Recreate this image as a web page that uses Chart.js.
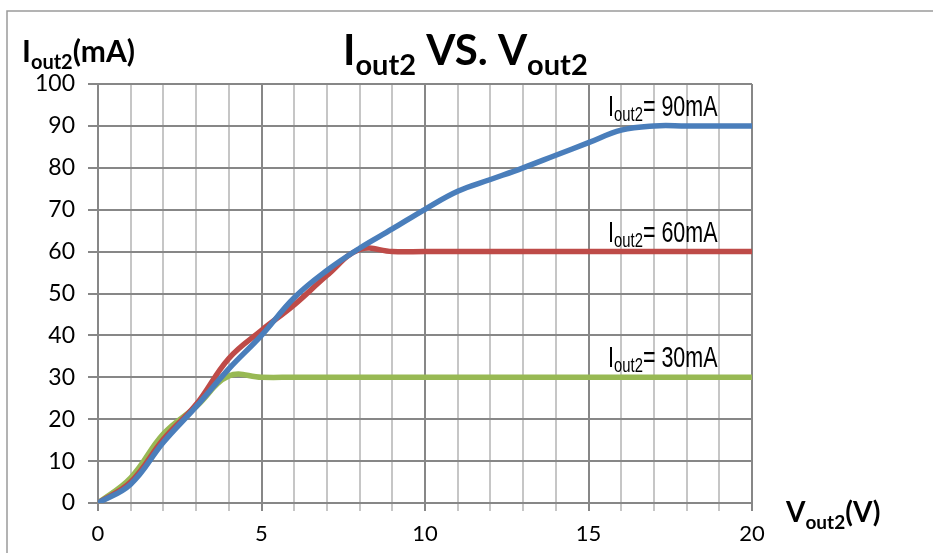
<!DOCTYPE html>
<html>
<head>
<meta charset="utf-8">
<script src="https://cdn.jsdelivr.net/npm/chart.js@4"></script>
<style>
  body { margin: 0; background: #fff; }
</style>
</head>
<body>
<canvas id="ivChart" width="933" height="553"></canvas>
<script>
// 電壓 (V)
var voltages = [0, 1, 2, 3, 4, 5, 6, 7, 8, 9, 10, 11, 12, 13, 14, 15, 16, 17, 18, 19, 20];
// 電流 (mA)
var current90 = [0, 4.5, 14.5, 23, 32, 40, 49, 55.5, 60.8, 65.4, 70.1, 74.4, 77.2, 80, 83, 86, 89, 90, 90, 90, 90];
var current60 = [0, 5, 15.2, 23.5, 34.5, 41.2, 47.3, 54.3, 60.5, 60, 60, 60, 60, 60, 60, 60, 60, 60, 60, 60, 60];
var current30 = [0, 6, 16.5, 23, 30.3, 30, 30, 30, 30, 30, 30, 30, 30, 30, 30, 30, 30, 30, 30, 30, 30];
var xTicks = [0, 5, 10, 15, 20];
var yTicks = [0, 10, 20, 30, 40, 50, 60, 70, 80, 90, 100];
var seriesLabels = ['90mA', '60mA', '30mA'];
var seriesLevels = [90, 60, 30];

function toPoints(ys) {
    return voltages.map(function (v, i) { return { x: v, y: ys[i] }; });
}

// 下標文字
function drawSub(ctx, x, y, parts) {
    parts.forEach(function (p) {
        ctx.font = p.font;
        ctx.fillText(p.t, x, y + (p.dy || 0));
        x += ctx.measureText(p.t).width;
    });
}

var textPlugin = {
    id: 'textPlugin',
    afterDraw: function (chart) {
        var ctx = chart.ctx;
        var xs = chart.scales.x, ys = chart.scales.y;
        ctx.save();
        // 外框
        ctx.strokeStyle = '#9a9a9a';
        ctx.lineWidth = 1.5;
        ctx.beginPath();
        ctx.moveTo(7, 553);
        ctx.lineTo(7, 11);
        ctx.lineTo(933, 11);
        ctx.stroke();

        ctx.fillStyle = '#000';
        ctx.textBaseline = 'alphabetic';
        ctx.textAlign = 'left';
        // 標題
        drawSub(ctx, 343, 65, [
            { t: 'I', font: 'bold 42px Lato' },
            { t: 'out2', font: 'bold 29px Lato', dy: 10 },
            { t: ' VS. V', font: 'bold 42px Lato' },
            { t: 'out2', font: 'bold 29px Lato', dy: 10 }
        ]);
        // 軸標題
        drawSub(ctx, 22, 62, [
            { t: 'I', font: 'bold 30px Lato' },
            { t: 'out2', font: 'bold 20px Lato', dy: 7 },
            { t: '(mA)', font: 'bold 30px Lato' }
        ]);
        drawSub(ctx, 786, 522, [
            { t: 'V', font: 'bold 28px Lato' },
            { t: 'out2', font: 'bold 19px Lato', dy: 7 },
            { t: '(V)', font: 'bold 28px Lato' }
        ]);
        // 曲線標註 (窄字體)
        seriesLabels.forEach(function (s, i) {
            ctx.save();
            ctx.translate(xs.getPixelForValue(15.6), ys.getPixelForValue(seriesLevels[i]) - 10);
            ctx.scale(0.74, 1);
            drawSub(ctx, 0, 0, [
                { t: 'I', font: '29px "Liberation Sans"' },
                { t: 'out2', font: '20px "Liberation Sans"', dy: 5 },
                { t: '= ' + s, font: '29px "Liberation Sans"' }
            ]);
            ctx.restore();
        });
        ctx.restore();
    }
};

var ivChart = new Chart(document.getElementById('ivChart'), {
    type: 'line',
    data: {
        datasets: [
            { data: toPoints(current90), borderColor: '#4a7ebb' },
            { data: toPoints(current60), borderColor: '#be4b48' },
            { data: toPoints(current30), borderColor: '#98b954' }
        ]
    },
    options: {
        responsive: false,
        animation: false,
        layout: { padding: { left: 0, right: 181, top: 84, bottom: 0 } },
        elements: {
            line: { borderWidth: 5.5, tension: 0.4, borderCapStyle: 'round' },
            point: { radius: 0 }
        },
        plugins: {
            legend: { display: false },
            tooltip: { enabled: false }
        },
        scales: {
            x: {
                type: 'linear',
                min: 0,
                max: 20,
                afterFit: function (scale) { scale.height = 50; },
                ticks: {
                    stepSize: 1,
                    autoSkip: false,
                    maxRotation: 0,
                    padding: 10,
                    color: '#000',
                    font: { family: 'Lato', size: 22 },
                    callback: function (value) {
                        return xTicks.indexOf(value) >= 0 ? value : '';
                    }
                },
                grid: {
                    lineWidth: 2,
                    tickLength: 8,
                    color: function (c) {
                        return c.tick && c.tick.value % 5 === 0 ? '#878787' : '#c6c6c6';
                    }
                },
                border: { color: '#878787', width: 2 }
            },
            y: {
                min: 0,
                max: 100,
                afterFit: function (scale) { scale.width = 98; },
                afterBuildTicks: function (scale) {
                    scale.ticks = yTicks.map(function (v) { return { value: v }; });
                },
                ticks: {
                    padding: 13,
                    color: '#000',
                    font: { family: 'Lato', size: 23 }
                },
                grid: { lineWidth: 2, tickLength: 10, color: '#878787' },
                border: { color: '#878787', width: 2 }
            }
        }
    },
    plugins: [textPlugin]
});
</script>
</body>
</html>
